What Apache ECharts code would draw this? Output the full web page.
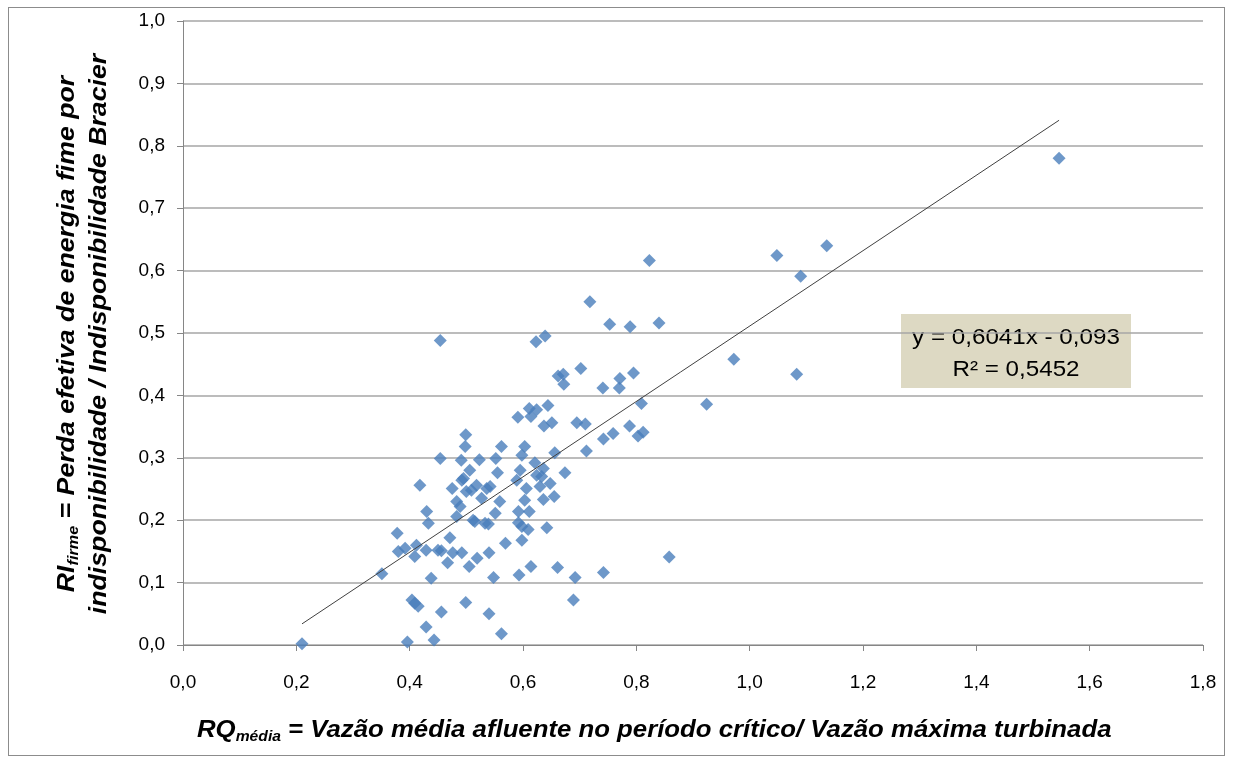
<!DOCTYPE html>
<html>
<head>
<meta charset="utf-8">
<script src="https://cdn.jsdelivr.net/npm/echarts@6.0.0/dist/echarts.min.js"></script>
<style>
  html, body { margin: 0; padding: 0; background: #fff; }
  #frame {
    position: absolute; left: 8px; top: 7px; width: 1217px; height: 749px;
    border: 1px solid #8c8c8c; box-sizing: border-box;
  }
  #chart { position: absolute; left: 0; top: 0; width: 1234px; height: 765px; }
</style>
</head>
<body>
<div id="frame"></div>
<div id="chart"></div>
<script>
// RQ média (x) e RI firme (y)
const rqMedia = [
  0.210, 0.351, 0.378, 0.380, 0.392, 0.396, 0.404, 0.409, 0.415, 0.409,
  0.412, 0.418, 0.429, 0.429, 0.430, 0.433, 0.438, 0.443, 0.450, 0.456,
  0.454, 0.454, 0.456, 0.467, 0.471, 0.475, 0.476, 0.483, 0.489, 0.483,
  0.491, 0.492, 0.492, 0.495, 0.498, 0.499, 0.499, 0.500, 0.505, 0.506,
  0.509, 0.512, 0.515, 0.518, 0.519, 0.523, 0.527, 0.533, 0.536, 0.539,
  0.540, 0.540, 0.542, 0.548, 0.551, 0.552, 0.555, 0.559, 0.562, 0.562,
  0.569, 0.589, 0.591, 0.592, 0.592, 0.593, 0.595, 0.598, 0.598, 0.598,
  0.603, 0.603, 0.606, 0.609, 0.611, 0.611, 0.614, 0.614, 0.621, 0.623,
  0.624, 0.624, 0.630, 0.633, 0.636, 0.636, 0.637, 0.639, 0.642, 0.644,
  0.648, 0.651, 0.655, 0.656, 0.661, 0.662, 0.671, 0.672, 0.674, 0.689,
  0.692, 0.695, 0.702, 0.710, 0.712, 0.718, 0.741, 0.742, 0.742, 0.753,
  0.759, 0.770, 0.771, 0.788, 0.789, 0.795, 0.803, 0.809, 0.812, 0.823,
  0.840, 0.858, 0.924, 0.972, 1.048, 1.083, 1.090, 1.136, 1.546
]
const riFirme = [
  0.002, 0.114, 0.179, 0.150, 0.155, 0.005, 0.072, 0.067, 0.062, 0.142,
  0.160, 0.256, 0.152, 0.029, 0.214, 0.195, 0.107, 0.008, 0.152, 0.151,
  0.488, 0.299, 0.053, 0.132, 0.172, 0.251, 0.148, 0.230, 0.222, 0.206,
  0.296, 0.264, 0.148, 0.267, 0.318, 0.337, 0.068, 0.246, 0.126, 0.280,
  0.248, 0.200, 0.198, 0.256, 0.139, 0.297, 0.235, 0.195, 0.251, 0.194,
  0.148, 0.050, 0.254, 0.108, 0.211, 0.299, 0.276, 0.230, 0.318, 0.018,
  0.163, 0.264, 0.365, 0.214, 0.196, 0.112, 0.280, 0.304, 0.190, 0.168,
  0.318, 0.232, 0.251, 0.185, 0.379, 0.214, 0.366, 0.126, 0.292, 0.486,
  0.377, 0.272, 0.254, 0.270, 0.283, 0.233, 0.351, 0.495, 0.188, 0.384,
  0.259, 0.356, 0.238, 0.308, 0.124, 0.431, 0.434, 0.418, 0.276, 0.072,
  0.108, 0.356, 0.443, 0.354, 0.311, 0.550, 0.412, 0.330, 0.116, 0.514,
  0.339, 0.412, 0.427, 0.351, 0.510, 0.436, 0.335, 0.387, 0.341, 0.616,
  0.516, 0.141, 0.386, 0.458, 0.624, 0.434, 0.591, 0.640, 0.780
]

// linha de tendência (Excel)
const slope = 0.6041
const intercept = -0.093
const r2 = 0.5452

const points = rqMedia.map((x, i) => [x, riFirme[i]])
const xMin = Math.min(...rqMedia)
const xMax = Math.max(...rqMedia)
const trend = [[xMin, slope * xMin + intercept], [xMax, slope * xMax + intercept]]

const fmt = v => v.toFixed(1).replace('.', ',')
const font = "'Liberation Sans', sans-serif"

// estilos dos títulos (negrito itálico com subscrito)
const titleRich = {
  a: { fontSize: 23, lineHeight: 32, fontWeight: 'bold', fontStyle: 'italic', fontFamily: font, fill: '#000' },
  s: { fontSize: 14, lineHeight: 32, fontWeight: 'bold', fontStyle: 'italic', fontFamily: font, fill: '#000', padding: [13, 0, 0, 0] }
}

const chart = echarts.init(document.getElementById('chart'))

chart.setOption({
  animation: false,
  grid: { left: 183, right: 31, top: 21, bottom: 120 },
  xAxis: {
    type: 'value',
    min: 0, max: 1.8, interval: 0.2,
    splitLine: { show: false },
    axisLine: { show: true, lineStyle: { color: '#868686', width: 1 } },
    axisTick: { show: true, length: 6, lineStyle: { color: '#868686' } },
    axisLabel: { formatter: fmt, color: '#000', fontSize: 19, margin: 28, fontFamily: font }
  },
  yAxis: {
    type: 'value',
    min: 0, max: 1, interval: 0.1,
    splitLine: { show: true, lineStyle: { color: '#a6a6a6', width: 1.5 } },
    axisLine: { show: true, lineStyle: { color: '#868686', width: 1 } },
    axisTick: { show: true, length: 6, lineStyle: { color: '#868686' } },
    axisLabel: { formatter: fmt, color: '#000', fontSize: 19, margin: 18, fontFamily: font }
  },
  series: [
    {
      type: 'scatter',
      data: points,
      symbol: 'diamond',
      symbolSize: 13,
      itemStyle: { color: '#4a7ebb' },
      z: 3
    },
    {
      type: 'line',
      data: trend,
      symbol: 'none',
      lineStyle: { color: '#404040', width: 1 },
      z: 4
    }
  ],
  graphic: [
    {
      type: 'text',
      x: 197, y: 715,
      scaleX: 1.12,
      style: {
        rich: titleRich,
        verticalAlign: 'top',
        text: '{a|RQ}{s|média}{a| = Vazão média afluente no período crítico/ Vazão máxima turbinada}'
      }
    },
    {
      type: 'text',
      x: 52, y: 334,
      rotation: Math.PI / 2,
      scaleX: 1.16,
      style: {
        align: 'center',
        verticalAlign: 'top',
        rich: titleRich,
        text: '{a|RI}{s|firme}{a| = Perda efetiva de energia fime por}\n{a|indisponibilidade / Indisponibilidade Bracier}'
      }
    },
    {
      type: 'group',
      x: 901, y: 314,
      children: [
        { type: 'rect', shape: { x: 0, y: 0, width: 230, height: 74 }, style: { fill: '#ddd9c3' } },
        {
          type: 'text', x: 115, y: 8,
          scaleX: 1.1,
          style: {
            text: 'y = 0,6041x - 0,093\nR² = ' + r2.toFixed(4).replace('.', ','),
            align: 'center', fontSize: 22, lineHeight: 32,
            fontFamily: font, fill: '#000'
          }
        }
      ]
    }
  ]
})
</script>
</body>
</html>
